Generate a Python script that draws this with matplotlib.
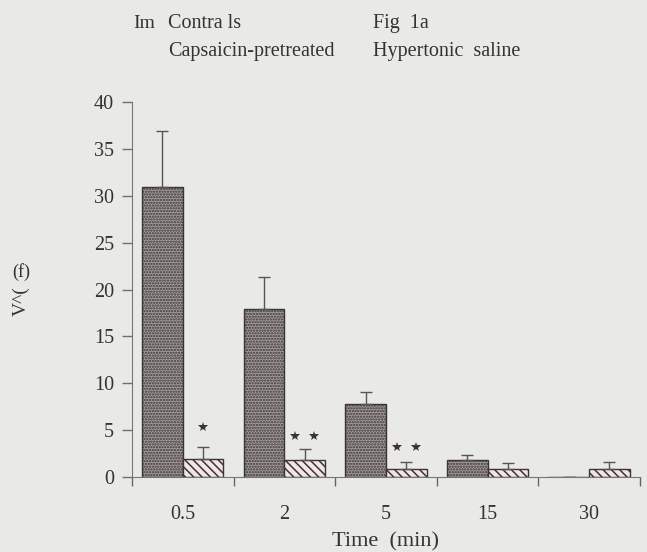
import numpy as np
import matplotlib.pyplot as plt

plt.rcParams['font.family'] = ['Liberation Serif', 'DejaVu Serif']
plt.rcParams['hatch.linewidth'] = 1.1

times = ['0.5', '2', '5', '15', '30']
control = [31.0, 17.9, 7.8, 1.8, 0.0]
control_err = [5.9, 3.4, 1.3, 0.5, 0.0]
capsaicin = [1.9, 1.8, 0.8, 0.8, 0.8]
capsaicin_err = [1.35, 1.2, 0.75, 0.7, 0.85]
star_counts = [1, 2, 2, 0, 0]
star_heights = [5.3, 4.4, 3.2, 0, 0]

bg = '#e9e9e7'
ink = '#3a3535'
fig = plt.figure(figsize=(6.47, 5.52), dpi=100, facecolor=bg)
ax = fig.add_axes([0.204, 0.1359, 0.785, 0.679])
ax.set_facecolor(bg)

x = np.arange(len(times))
w = 0.4
ax.bar(x - w/2, control, w, color='#a39a9b', edgecolor=ink, hatch='......', linewidth=1.0)
ax.bar(x + w/2, capsaicin, w, color='#f2e4e7', edgecolor=ink, hatch='\\\\\\\\', linewidth=1.0)
ax.errorbar(x - w/2, control, yerr=[np.zeros(5), control_err], fmt='none', ecolor='#555', elinewidth=1.0, capsize=4)
ax.errorbar(x + w/2, capsaicin, yerr=[np.zeros(5), capsaicin_err], fmt='none', ecolor='#555', elinewidth=1.0, capsize=4)

for i in range(len(times)):
	n = star_counts[i]
	if n == 0:
		continue
	offs = [0.0] if n == 1 else [-0.095, 0.095]
	for o in offs:
		ax.plot(x[i] + w/2 + o, star_heights[i], marker='*', ms=7, color=ink, mew=0)

ax.set_xlim(-0.5, 4.5)
ax.set_ylim(0, 40)
ax.set_yticks(np.arange(0, 41, 5))
ax.set_yticklabels([str(v) for v in range(0, 41, 5)], fontsize=14.5, color='#333')
ax.set_xticks(np.arange(-0.5, 4.6, 1))
ax.set_xticklabels([])
ax.set_xticks(x, minor=True)
ax.set_xticklabels(times, minor=True, fontsize=14.5, color='#333')
ax.tick_params(axis='x', which='minor', length=0, pad=20)
ax.tick_params(axis='x', which='major', length=6.5, width=1, color='#666', direction='out')
ax.tick_params(axis='y', length=7, width=1, color='#7a6a6a', pad=6)
for s in ['top', 'right']:
	ax.spines[s].set_visible(False)
ax.spines['left'].set_color('#777')
ax.spines['bottom'].set_color('#777')
ax.set_xlabel('Time  (min)', fontsize=16, color='#333', labelpad=6)

fig.text(133/647, 1-28/552, 'Im', fontsize=14, color='#333')
fig.text(168/647, 1-28/552, 'Contra ls', fontsize=14.5, color='#333')
fig.text(373/647, 1-28/552, 'Fig  1a', fontsize=14.5, color='#333')
fig.text(168/647, 1-56/552, 'Capsaicin-pretreated', fontsize=14.5, color='#333')
fig.text(373/647, 1-56/552, 'Hypertonic  saline', fontsize=14.5, color='#333')
fig.text(21/647, 1-272/552, '(f)', fontsize=13, color='#333', ha='center', va='center')
fig.text(21/647, 1-301/552, 'V^(', fontsize=14, color='#333', ha='center', va='center', rotation=90)

fig.savefig('out.png', dpi=100, facecolor=bg)
